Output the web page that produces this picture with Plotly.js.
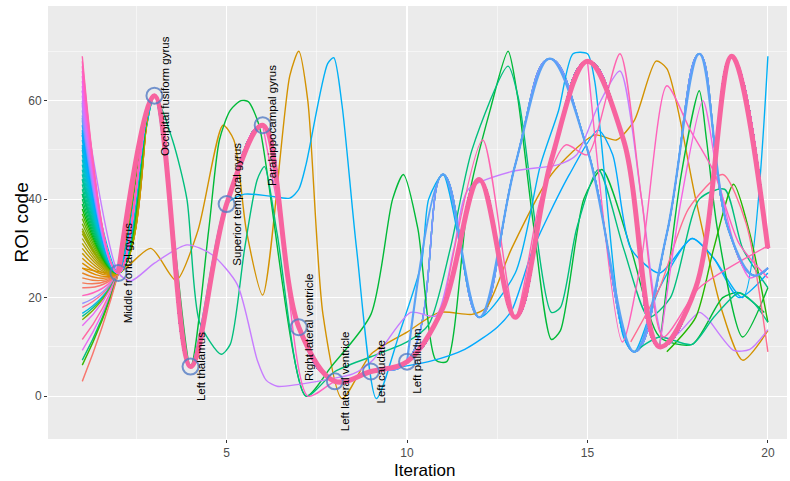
<!DOCTYPE html>
<html><head><meta charset="utf-8">
<script src="https://cdn.plot.ly/plotly-3.0.1.min.js"></script>
<style>html,body{margin:0;padding:0;background:#fff;overflow:hidden}</style>
</head><body><div id="chart" style="width:790px;height:481px"></div>
<script>
// ---------------- data ----------------
const iterations = [1,2,3,4,5,6,7,8,9,10,11,12,13,14,15,16,17,18,19,20];
// consensus path followed by most runs (iteration 1 differs per run)
const consensusRoi = [null,25,61,6,39,55,14,3,5,7,18,44,16,48,68,52,10,22,69,30];
// starting ROI codes of runs following the consensus path
const fanStartRoi = [22,23,24,25,26,27,28,29,30,31,32,33,34,35,36,37,38,39,40,41,42,43,44,45,46,47,48,49,50,51,52,53,54,55,56,57,58,59,60,61,62,63,64,65,66,67,68,69];
const lowStartRoi = [20.4,18.8,18,16.8,16.2,15.5,14.3,11.5,9.3,7.3,6.3,3];
// runs that follow consensus to iteration 10 then a second path
const branchStartRoi = [33.5,50.5,53.5,56.5,59.5];
const branchIter = [10,11,12,13,13.95,15,16.3,17.2,18.1,18.9,19.6,20];
const branchRoi  = [7,45,16,47,68.5,50,9,33,69.5,34,24.5,26];

// individual divergent runs
const orangeIter = [1,2,2.9,3.6,4.2,4.9,5.2,5.55,6.0,6.75,7.0,7.25,7.67,8.2,9.0,10.0,10.9,11.8,12.2,12.9,14.0,15.2,15.8,16.3,16.9,17.2,18.0,18.7,19.3,20];
const orangeRoi  = [26,25,30,23.5,33.5,55,52,33.5,20.5,65,70,60,16.6,-0.5,8.5,13,17,16.6,18,30,45,53,52,56,68,66.5,40,18,7.3,13.3];
const purpleIter = [1,2,2.35,3,3.9,4.6,5.3,5.85,6.1,6.4,7.0,7.67,8.5,9.05,10.1,10.8,11.3,11.7,12.9,14.2,14.7,15.3,15.9,16.5,17.1,17.4,18.1,18.3,19.05,19.5,20];
const purpleRoi  = [62,25,23.4,27,30.7,28.7,22.6,7.3,3.2,2,2.4,3.2,4.5,7.3,17,16.3,30,42,45.6,47,49,59,66,40,12,12,17,16,9.3,9.5,13.5];
const tealIter = [1,2,3,3.5,3.9,4.25,4.85,5.1,5.5,5.85,6.05,6.4,7.2,8,9,10,10.6,11.2,11.8,12.8,13.1,14.0,14.25,14.7,15.3,16.0,16.7,17.3,18.1,18.8,19.3,20];
const tealRoi  = [44,25,61,52,40,15,8.5,10.5,30,44,46.6,33,0,5,8,11,14.5,30,50,67,60,17,18,34,46,30,16,20,40,42,30,22];
const greenIter = [1,2,3,4,4.5,4.8,5.1,5.4,5.6,5.9,7.2,7.9,9.0,9.6,9.9,10.3,10.8,11.1,11.7,12.3,12.8,13.06,13.5,14.0,14.25,14.9,15.4,16.2,17.0,17.9,18.75,19.2,19.9];
const greenRoi  = [41,25,61,6,33.5,52,58,60,59.8,55,0,6,16.6,40,45,34,7.3,7,40,58,70,61,35,11.5,13.3,40,46,30,12,10.5,20,21,17];
const cyanIter = [1,2,3,4,5,5.5,6.2,6.75,7.0,7.2,7.8,7.97,8.2,8.6,9.15,9.8,10.4,10.6,11,12,13,13.7,14.2,14.6,15.0,15.2,16.0,16.3,17.0,17.9,18.5,19.3,20];
const cyanRoi  = [53,25,61,6,39,41,40.6,40.2,42,47,67.5,68.7,59,30,-0.5,13,27,40,45,16,25,47,58,69.5,69.5,64,12,9,22,32,28,20,69];
const slowBlueIter = [9,10.6,11.6,12.5,12.9,13.5,14.5,15.3,15.7,16.2,17,17.9,18.5,19.2,20];
const slowBlueRoi  = [5,7,9.5,14,17.4,30,45,54,49,30,25,32,28,20,25];
const pinkEIter = [11,12.1,13,13.7,14.4,15.0,15.9,16.5,17.1,18.1,20];
const pinkERoi  = [18,52,16,40,51,49,69.5,40,12,22,30.5];
const pinkGIter = [15,15.97,16.5,17.2,17.85,18.5,19.2,20];
const pinkGRoi  = [68,11,28,63,54,45.6,31,24];
const pinkSixIter = [6,6.5,7.25,8,8.5];
const pinkSixRoi  = [55,35,0,3,3.5];
const greenHIter = [17,17.6,18.1,18.3,18.6,19.3,20];
const greenHRoi  = [10,45,62,52,34,12,22];
const pinkHIter = [17,17.6,18.2,18.6,19.1,19.5,20];
const pinkHRoi  = [10,40,60,45,30,24,26];
const pinkLowIter = [16.2,17.0,17.8,18.75,19.4,20];
const pinkLowRoi  = [11,22,38,45,35,9];
const greenLowIter = [17.2,18.0,18.5,19.05,19.5,20];
const greenLowRoi  = [9,16,30,43,33,15];
const greenWaveIter = [16.3,17,17.9,18.5,19.2,19.6,20];
const greenWaveRoi  = [9,12,10.5,16,21,19,15];

const labelIterations = [2,3,4,5,6,7,8,9,10];
const labelNames = ["Middle frontal gyrus","Occipital fusiform gyrus","Left thalamus","Superior temporal gyrus","Parahippocampal gyrus","Right lateral ventricle","Left lateral ventricle","Left caudate","Left pallidum"];

// ---------------- style helpers ----------------
function hcl(h){
  const c=100,l=65,hr=h*Math.PI/180;
  const u=c*Math.cos(hr), v=c*Math.sin(hr);
  const Xn=95.047,Yn=100,Zn=108.883;
  const Y=Yn*Math.pow((l+16)/116,3);
  const den=Xn+15*Yn+3*Zn, un=4*Xn/den, vn=9*Yn/den;
  const up=u/(13*l)+un, vp=v/(13*l)+vn;
  const X=Y*9*up/(4*vp), Z=Y*(12-3*up-20*vp)/(4*vp);
  const x=X/100,y=Y/100,z=Z/100;
  const r=3.2404542*x-1.5371385*y-0.4985314*z;
  const g=-0.9692660*x+1.8760108*y+0.0415560*z;
  const b=0.0556434*x-0.2040259*y+1.0572252*z;
  const gm=t=>{t=t<=0.0031308?12.92*t:1.055*Math.pow(t,1/2.4)-0.055;return Math.round(Math.max(0,Math.min(1,t))*255);};
  return `rgb(${gm(r)},${gm(g)},${gm(b)})`;
}
const lowColors = ['#FF62BC','#9590FF','#FF6C91','#00B8E7','#00C08B','#7CAE00','#E76BF3','#FF67A4','#E76BF3','#00BF7D','#39B600','#F8766D'];
const branchColors = ['#A3A500','#00B4EF','#00A9FF','#619CFF','#8494FF'];

function line(x,y,color,width,smooth){
  return {type:'scatter',mode:'lines',x:x,y:y,hoverinfo:'skip',showlegend:false,
    line:{color:color,width:width,shape:'spline',smoothing:smooth}};
}

const traces = [];
const consTail = consensusRoi.slice(1);
lowStartRoi.forEach((s,i)=>traces.push(line(iterations,[s].concat(consTail),lowColors[i],1.4,1.3)));
branchStartRoi.forEach((s,i)=>traces.push(line(iterations.slice(0,10).concat(branchIter.slice(1)),[s].concat(consensusRoi.slice(1,10)).concat(branchRoi.slice(1)),branchColors[i],1.4,1.3)));
traces.push(line(orangeIter,orangeRoi,'#D39200',1.4,0.7));
traces.push(line(greenIter,greenRoi,'#00BA38',1.4,0.7));
traces.push(line(tealIter,tealRoi,'#00BF7D',1.4,0.7));
traces.push(line(cyanIter,cyanRoi,'#00B0F6',1.4,0.7));
traces.push(line(slowBlueIter,slowBlueRoi,'#00A9FF',1.4,0.7));
traces.push(line(purpleIter,purpleRoi,'#C77CFF',1.4,0.7));
traces.push(line(greenHIter,greenHRoi,'#00BA38',1.4,0.7));
traces.push(line(greenLowIter,greenLowRoi,'#24B700',1.4,0.7));
traces.push(line(greenWaveIter,greenWaveRoi,'#00C08B',1.4,0.7));
traces.push(line(pinkSixIter,pinkSixRoi,'#FF61C3',1.4,0.7));
traces.push(line(pinkLowIter,pinkLowRoi,'#FF6C91',1.4,0.7));
traces.push(line(pinkGIter,pinkGRoi,'#FF62BC',1.4,0.7));
traces.push(line(pinkHIter,pinkHRoi,'#F564E3',1.4,0.7));
traces.push(line(pinkEIter,pinkERoi,'#FF64B0',1.4,0.7));
fanStartRoi.forEach(s=>traces.push(line(iterations,[s].concat(consTail),hcl(15+(s-22)/47*330),1.4,1.3)));
traces.push(line(branchIter,branchRoi,'#5AA2F5',2.2,1));
traces.push(line(iterations.slice(1),consTail,'#F7649F',5,1));
traces.push({type:'scatter',mode:'markers',x:labelIterations,y:labelIterations.map(i=>consensusRoi[i-1]),
  hoverinfo:'skip',showlegend:false,
  marker:{symbol:'circle-open',size:16,color:'rgba(84,124,196,0.8)',line:{width:2}}});

const annotations = labelIterations.map((it,k)=>({
  x:it,y:consensusRoi[it-1],text:labelNames[k],textangle:-90,showarrow:false,
  xshift:10,xanchor:'center',yanchor:'middle',
  font:{size:11.5,color:'#000',family:'Liberation Sans, Arial, sans-serif'}}));
// axis titles placed as annotations for exact positioning
annotations.push({xref:'paper',yref:'paper',x:0.5,y:0,yshift:-42,xshift:7,text:'Iteration',showarrow:false,
  borderpad:0,xanchor:'center',yanchor:'bottom',font:{size:17,color:'#000',family:'Liberation Sans, Arial, sans-serif'}});
annotations.push({xref:'paper',yref:'paper',x:0,y:0.5,xshift:-27,yshift:0,text:'ROI code',textangle:-90,showarrow:false,
  borderpad:0,xanchor:'center',yanchor:'middle',font:{size:19,color:'#000',family:'Liberation Sans, Arial, sans-serif'}});

const axisCommon = {ticks:'outside',ticklen:3,tickwidth:1,tickcolor:'#333',
  tickfont:{size:12,color:'#4D4D4D',family:'Liberation Sans, Arial, sans-serif'},
  showgrid:true,gridcolor:'#FFFFFF',gridwidth:1.1,zeroline:false,showline:false,automargin:false};

const layout = {
  width:790,height:481,margin:{l:48,r:3,t:6,b:42},
  paper_bgcolor:'#FFFFFF',plot_bgcolor:'#EBEBEB',showlegend:false,hovermode:false,
  font:{family:'Liberation Sans, Arial, sans-serif'},
  xaxis:Object.assign({},axisCommon,{range:[0.05,20.53],tick0:0,dtick:5,
    minor:{tick0:0,dtick:2.5,showgrid:true,gridcolor:'#FFFFFF',gridwidth:0.5}}),
  yaxis:Object.assign({},axisCommon,{range:[-8.7,79.2],tick0:0,dtick:20,
    minor:{tick0:0,dtick:10,showgrid:true,gridcolor:'#FFFFFF',gridwidth:0.5}}),
  annotations:annotations
};
Plotly.newPlot('chart',traces,layout,{displayModeBar:false,staticPlot:true});
</script></body></html>
